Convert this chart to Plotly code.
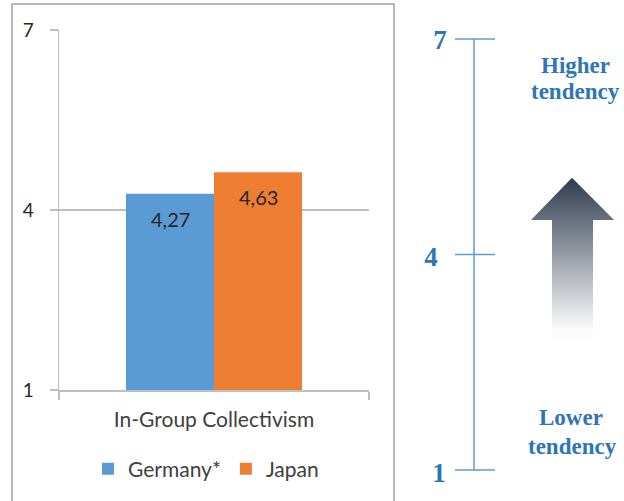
import plotly.graph_objects as go

# ---- data ----
categories = ["In-Group Collectivism"]
germany = [4.27]
japan = [4.63]
series_names = ["Germany*", "Japan"]
y_ticks = [1, 4, 7]
scale_ticks = [1, 4, 7]
scale_labels = ["1", "4", "7"]

W, H = 624, 501
BLUE = "#5B9BD5"
ORANGE = "#ED7D31"
GRID = "#bfbfbf"
SCALE_BLUE = "#2E75B6"
LEFT_FONT = "Lato"
SERIF = "Liberation Serif"


def fx(px):
    return px / W


def fy(py):
    return (H - py) / H


fig = go.Figure()

fig.add_trace(go.Bar(name=series_names[0], x=categories, y=germany,
                     marker=dict(color=BLUE, line=dict(width=0)), hoverinfo="skip"))
fig.add_trace(go.Bar(name=series_names[1], x=categories, y=japan,
                     marker=dict(color=ORANGE, line=dict(width=0)), hoverinfo="skip"))

# data labels (inside end) via annotations
for vals, xs in ((germany, -44), (japan, 44)):
    for c, v in zip(categories, vals):
        fig.add_annotation(x=c, y=v, xref="x", yref="y", text=f"{v:.2f}".replace(".", ","),
                           showarrow=False, xshift=xs, yshift=-25,
                           font=dict(family=LEFT_FONT, size=20, color="#262626"))

# ---- right scale ----
sx = 474
fig.add_trace(go.Scatter(x=[sx, sx], y=[min(scale_ticks), max(scale_ticks)], xaxis="x2", yaxis="y2",
                         mode="lines", line=dict(color=BLUE, width=1.5),
                         showlegend=False, hoverinfo="skip"))
for t in scale_ticks:
    fig.add_trace(go.Scatter(x=[sx - 19, sx + 21], y=[t, t], xaxis="x2", yaxis="y2",
                             mode="lines", line=dict(color=BLUE, width=1.5),
                             showlegend=False, hoverinfo="skip"))
label_x = {"1": 439, "4": 431, "7": 440}
label_dy = {"1": -0.07, "4": -0.07, "7": -0.04}
fig.add_trace(go.Scatter(x=[label_x[l] for l in scale_labels],
                         y=[t + label_dy[l] for t, l in zip(scale_ticks, scale_labels)],
                         xaxis="x2", yaxis="y2", mode="text", text=scale_labels, cliponaxis=False,
                         textfont=dict(family=SERIF, size=27, color=SCALE_BLUE, weight="bold"),
                         textposition="middle center", showlegend=False, hoverinfo="skip"))

# gradient arrow
ax = [572, 614, 593, 593, 552, 552, 531, 572]
ay = [5.07, 4.48, 4.48, 2.78, 2.78, 4.48, 4.48, 5.07]
fig.add_trace(go.Scatter(x=ax, y=ay, xaxis="x2", yaxis="y2", mode="lines", fill="toself",
                         line=dict(width=0, color="rgba(0,0,0,0)"),
                         fillgradient=dict(type="vertical",
                                           colorscale=[[0, "rgba(255,255,255,1)"],
                                                       [0.08, "rgba(250,250,251,1)"],
                                                       [1, "#2F3B4D"]]),
                         showlegend=False, hoverinfo="skip"))

for txt, ypx, xpx in (("Higher", 65, 575), ("tendency", 92, 575),
                      ("Lower", 417, 571), ("tendency", 446, 572)):
    fig.add_annotation(x=fx(xpx), y=fy(ypx), xref="paper", yref="paper", text=f"<b>{txt}</b>",
                       showarrow=False, xanchor="center", yanchor="middle",
                       font=dict(family=SERIF, size=23, color=SCALE_BLUE))

# chart border
fig.add_shape(type="rect", xref="paper", yref="paper", x0=fx(12), x1=fx(394), y0=fy(505), y1=fy(4),
              line=dict(color="#a0a0a0", width=1.5), fillcolor="rgba(0,0,0,0)", layer="below")

unit = (470 - 39) / 6.0  # pixels per scale unit
pad = 0.3
fig.update_layout(
    width=W, height=H, autosize=False,
    margin=dict(l=0, r=0, t=0, b=0, autoexpand=False),
    paper_bgcolor="white", plot_bgcolor="white",
    barmode="group", bargap=0.432, bargroupgap=0,
    font=dict(family=LEFT_FONT, size=20, color="#404040"),
    xaxis=dict(domain=[fx(59), fx(369)], type="category", showline=True, linecolor=GRID, linewidth=1.5,
               ticks="outside", tickson="boundaries", ticklen=8, tickcolor=GRID, tickwidth=1.5,
               showgrid=False, tickfont=dict(family=LEFT_FONT, size=21, color="#404040"),
               ticklabelstandoff=10, automargin=False),
    yaxis=dict(domain=[fy(390), fy(30)], range=[1, 7], tickvals=y_ticks, showgrid=True, gridcolor=GRID,
               gridwidth=1.5, showline=True, linecolor=GRID, linewidth=1.5, ticks="outside", ticklen=8,
               tickcolor=GRID, tickwidth=1.5, zeroline=False, ticklabelstandoff=12, automargin=False,
               tickfont=dict(family=LEFT_FONT, size=19, color="#262626")),
    xaxis2=dict(domain=[fx(400), 1], range=[400, 624], visible=False, anchor="y2"),
    yaxis2=dict(domain=[fy(470 + pad * unit), fy(39 - pad * unit)], range=[1 - pad, 7 + pad],
                visible=False, anchor="x2"),
    legend=dict(orientation="h", x=fx(206), xanchor="center", y=fy(469), yanchor="middle",
                font=dict(family=LEFT_FONT, size=21, color="#404040"), itemwidth=30,
                bgcolor="rgba(0,0,0,0)"),
    showlegend=True,
)

fig.write_html("out.html", config={"displayModeBar": False, "staticPlot": True},
               post_script="document.body.style.margin='0';document.body.style.overflow='hidden';")
